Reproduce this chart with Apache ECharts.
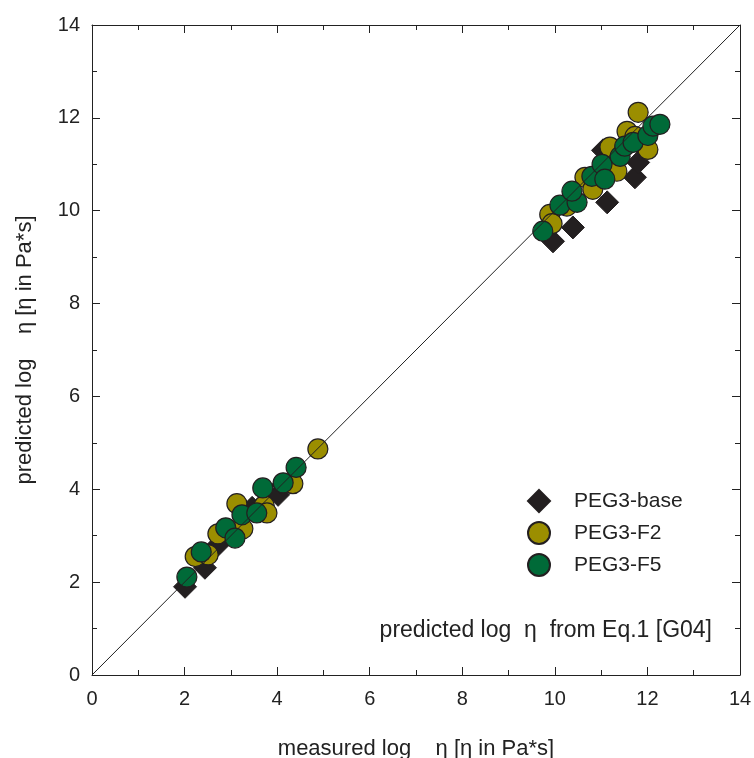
<!DOCTYPE html>
<html>
<head>
<meta charset="utf-8">
<script src="https://cdn.jsdelivr.net/npm/echarts@6/dist/echarts.min.js"></script>
<style>
  html, body { margin: 0; padding: 0; background: #fff; }
  #chartDom { width: 754px; height: 758px; }
</style>
</head>
<body>
<div id="chartDom"></div>
<script>
// measured vs predicted log viscosity
var baseX = [2.01, 2.44, 2.72, 3.46, 4.02, 4.13, 9.96, 10.39, 11.13, 11.73, 11.80, 11.04, 11.20];
var baseY = [1.90, 2.31, 2.80, 3.60, 3.88, 4.10, 9.34, 9.64, 10.18, 10.72, 11.04, 11.30, 11.10];

var f2X = [2.23, 2.51, 2.72, 3.13, 3.26, 3.72, 3.78, 4.34, 4.88,
           9.89, 9.94, 10.26, 10.65, 10.82, 11.19, 11.34, 11.56, 11.73, 12.01, 11.80];
var f2Y = [2.55, 2.59, 3.04, 3.69, 3.15, 3.65, 3.49, 4.12, 4.87,
           9.92, 9.72, 10.10, 10.72, 10.46, 11.37, 10.85, 11.71, 11.60, 11.32, 12.12];

var f5X = [2.05, 2.36, 2.89, 3.09, 3.24, 3.56, 3.69, 4.13, 4.41,
           9.74, 10.11, 10.48, 10.37, 10.80, 11.02, 11.08, 11.41, 11.51, 11.69, 12.01, 12.12, 12.27];
var f5Y = [2.11, 2.65, 3.17, 2.95, 3.45, 3.49, 4.03, 4.14, 4.47,
           9.56, 10.12, 10.18, 10.42, 10.74, 11.00, 10.68, 11.17, 11.39, 11.47, 11.62, 11.82, 11.86];

var lineXY = [0, 14];

function pairs(xs, ys) {
  return xs.map(function (x, i) { return [x, ys[i]]; });
}

var chartDom = document.getElementById('chartDom');
var myChart = echarts.init(chartDom);

var fontFam = '"Liberation Sans", Arial, sans-serif';
var axisCommon = {
  type: 'value',
  min: 0,
  max: 14,
  interval: 2,
  axisLine: { show: true, onZero: false, lineStyle: { color: '#222', width: 1 } },
  axisTick: { show: true, inside: true, length: 8, lineStyle: { color: '#222' } },
  minorTick: { show: true, splitNumber: 2, length: 5, lineStyle: { color: '#222' } },
  splitLine: { show: false },
  axisLabel: { show: false }
};

var option = {
  animation: false,
  grid: { left: 92, right: 14, top: 25, bottom: 83, outerBoundsMode: 'none', containLabel: false },
  xAxis: [
    Object.assign({}, axisCommon, {
      position: 'bottom',
      axisLabel: { show: true, margin: 14, fontSize: 20, color: '#222', fontFamily: fontFam },
      name: 'measured log    \u03b7 [\u03b7 in Pa*s]',
      nameLocation: 'middle',
      nameGap: 63,
      nameTextStyle: { fontSize: 22, color: '#222', fontFamily: fontFam }
    }),
    Object.assign({}, axisCommon, { position: 'top' })
  ],
  yAxis: [
    Object.assign({}, axisCommon, {
      position: 'left',
      axisLabel: { show: true, margin: 12, fontSize: 20, color: '#222', fontFamily: fontFam },
      name: 'predicted log    \u03b7 [\u03b7 in Pa*s]',
      nameLocation: 'middle',
      nameGap: 56,
      nameTextStyle: { fontSize: 22, color: '#222', fontFamily: fontFam }
    }),
    Object.assign({}, axisCommon, { position: 'right' })
  ],
  legend: {
    orient: 'vertical',
    left: 522,
    top: 484,
    itemWidth: 22,
    itemHeight: 22,
    itemGap: 8,
    data: ['PEG3-base', 'PEG3-F2', 'PEG3-F5'],
    textStyle: { fontSize: 21, color: '#222', fontFamily: fontFam, padding: [0, 0, 0, 19] }
  },
  graphic: [{
    type: 'text',
    right: 42,
    top: 619,
    style: {
      text: 'predicted log  \u03b7  from Eq.1 [G04]',
      font: '23px "Liberation Sans", Arial, sans-serif',
      fill: '#222'
    }
  }],
  series: [
    {
      name: '1:1',
      type: 'line',
      data: [[lineXY[0], lineXY[0]], [lineXY[1], lineXY[1]]],
      showSymbol: false,
      lineStyle: { color: '#222', width: 1 },
      silent: true
    },
    {
      name: 'PEG3-base',
      type: 'scatter',
      symbol: 'diamond',
      symbolSize: 23,
      data: pairs(baseX, baseY),
      itemStyle: { color: '#231f20', borderColor: '#231f20', borderWidth: 1, opacity: 1 }
    },
    {
      name: 'PEG3-F2',
      type: 'scatter',
      symbol: 'circle',
      symbolSize: 20,
      data: pairs(f2X, f2Y),
      itemStyle: { color: '#9b8e00', borderColor: '#231f20', borderWidth: 1.2, opacity: 1 }
    },
    {
      name: 'PEG3-F5',
      type: 'scatter',
      symbol: 'circle',
      symbolSize: 20,
      data: pairs(f5X, f5Y),
      itemStyle: { color: '#006a38', borderColor: '#231f20', borderWidth: 1.2, opacity: 1 }
    }
  ]
};

option && myChart.setOption(option);
</script>
</body>
</html>
